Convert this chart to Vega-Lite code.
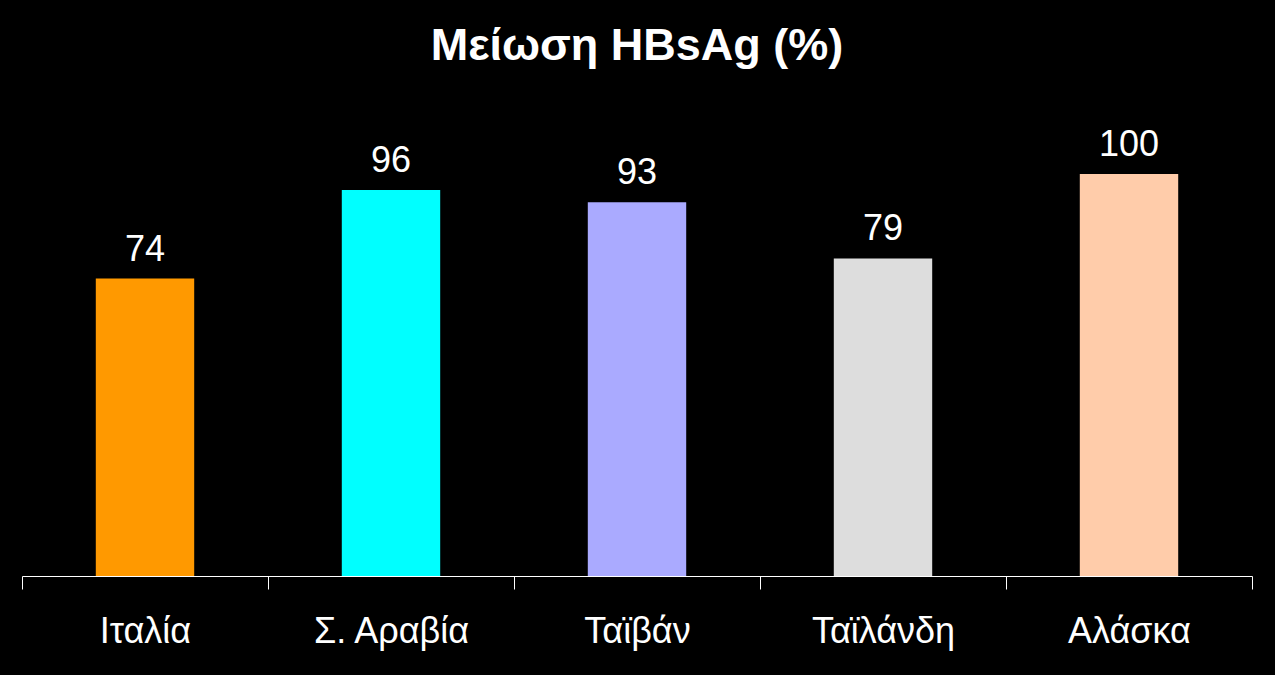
{
  "$schema": "https://vega.github.io/schema/vega-lite/v6.json",
  "background": "#000000",
  "autosize": "none",
  "width": 1230,
  "height": 402,
  "padding": {"left": 22, "top": 174, "right": 23, "bottom": 99},
  "title": {
    "text": "Μείωση HBsAg (%)",
    "color": "#FFFFFF",
    "font": "Liberation Sans",
    "fontSize": 45,
    "fontWeight": "bold",
    "anchor": "middle",
    "offset": 58
  },
  "data": {
    "values": [
      {"country": "Ιταλία", "reduction": 74},
      {"country": "Σ. Αραβία", "reduction": 96},
      {"country": "Ταϊβάν", "reduction": 93},
      {"country": "Ταϊλάνδη", "reduction": 79},
      {"country": "Αλάσκα", "reduction": 100}
    ]
  },
  "encoding": {
    "x": {
      "field": "country",
      "type": "nominal",
      "sort": null,
      "scale": {"paddingInner": 0, "paddingOuter": 0},
      "axis": {
        "title": null,
        "tickBand": "extent",
        "labelAngle": 0,
        "domainColor": "#FFFFFF",
        "domainWidth": 1,
        "tickColor": "#FFFFFF",
        "tickWidth": 1,
        "tickSize": 13,
        "labelColor": "#FFFFFF",
        "labelFont": "Liberation Sans",
        "labelFontSize": 36,
        "labelPadding": 25
      }
    },
    "y": {
      "field": "reduction",
      "type": "quantitative",
      "scale": {"domain": [0, 100], "nice": false},
      "axis": null
    }
  },
  "layer": [
    {
      "mark": {"type": "bar", "width": {"band": 0.4}},
      "encoding": {
        "color": {
          "field": "country",
          "type": "nominal",
          "sort": null,
          "scale": {
            "domain": ["Ιταλία", "Σ. Αραβία", "Ταϊβάν", "Ταϊλάνδη", "Αλάσκα"],
            "range": ["#FF9900", "#00FFFF", "#AAAAFF", "#DDDDDD", "#FFCCAA"]
          },
          "legend": null
        }
      }
    },
    {
      "mark": {
        "type": "text",
        "color": "#FFFFFF",
        "font": "Liberation Sans",
        "fontSize": 36,
        "baseline": "alphabetic",
        "dy": -18
      },
      "encoding": {
        "text": {"field": "reduction", "type": "quantitative"}
      }
    }
  ],
  "config": {
    "view": {"stroke": null}
  }
}
